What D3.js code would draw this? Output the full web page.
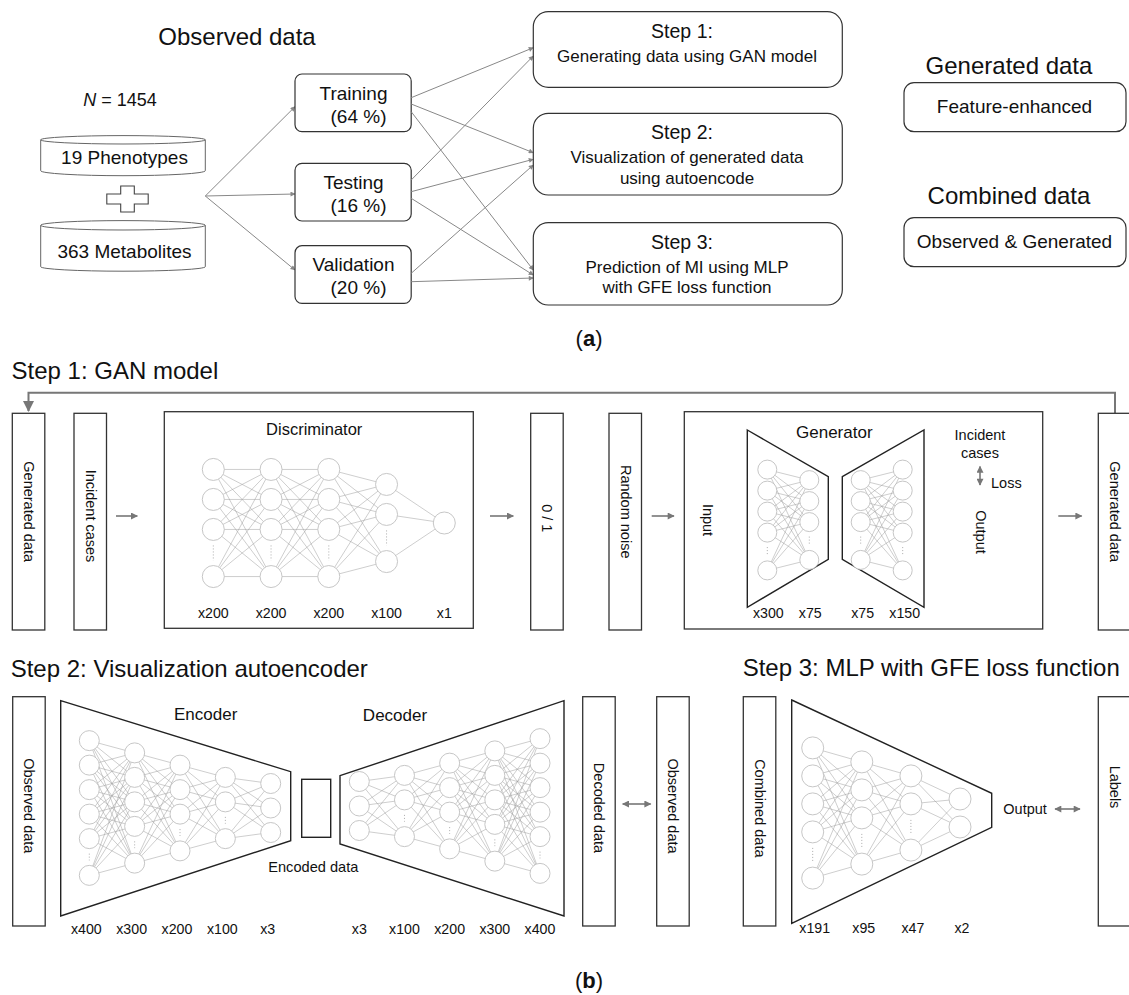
<!DOCTYPE html>
<html><head><meta charset="utf-8">
<script src="https://cdn.jsdelivr.net/npm/d3@7"></script>
<style>
body{margin:0;background:#fff}
text{font-family:"Liberation Sans",Arial,Helvetica,sans-serif;fill:#111}
</style></head><body>
<svg id="c" width="1129" height="995"></svg>
<script>
// ---------- data ----------
const observedTitle = "Observed data";
const sampleSize = 1454;
const dataSources = ["19 Phenotypes", "363 Metabolites"];
const splitNames = ["Training", "Testing", "Validation"];
const splitPercents = [64, 16, 20];
const stepTitles = ["Step 1:", "Step 2:", "Step 3:"];
const stepDescriptions = [["Generating data using GAN model"], ["Visualization of generated data", "using autoencode"], ["Prediction of MI using MLP", "with GFE loss function"]];
const splitToStep = [[0, 0], [0, 1], [0, 2], [1, 0], [1, 1], [1, 2], [2, 1], [2, 2]];
const dataKinds = ["Generated data", "Combined data"];
const dataKindBoxes = ["Feature-enhanced", "Observed & Generated"];
const sectionTitles = ["Step 1: GAN model", "Step 2: Visualization autoencoder", "Step 3: MLP with GFE loss function"];
const ganColumns = ["Generated data", "Incident cases", "0 / 1", "Random noise", "Generated data"];
const bottomColumns = ["Observed data", "Decoded data", "Observed data", "Combined data", "Labels"];
const discriminatorLayers = [200, 200, 200, 100, 1];
const discriminatorShown = [4, 4, 4, 3, 1];
const generatorInLayers = [300, 75];
const generatorInShown = [5, 4];
const generatorOutLayers = [75, 150];
const generatorOutShown = [4, 5];
const encoderLayers = [400, 300, 200, 100, 3];
const encoderShown = [6, 5, 4, 3, 3];
const decoderLayers = [3, 100, 200, 300, 400];
const decoderShown = [3, 3, 4, 5, 6];
const mlpLayers = [191, 95, 47, 2];
const mlpShown = [5, 4, 3, 2];

// ---------- drawing ----------
const svg = d3.select("#c");
const GRAY = "#777";
const defs = svg.append("defs");
function marker(id, w, h, color) {
  defs.append("marker").attr("id", id).attr("viewBox", "0 0 10 10").attr("refX", 9).attr("refY", 5)
    .attr("markerWidth", w).attr("markerHeight", h).attr("orient", "auto-start-reverse")
    .attr("markerUnits", "userSpaceOnUse")
    .append("path").attr("d", "M0,0 L10,5 L0,10 z").attr("fill", color);
}
marker("ahs", 6, 5, "#888");
marker("ahm", 9, 7, GRAY);
marker("ahb", 12, 11, GRAY);

function txt(x, y, s, size, anchor = "middle", g = svg) {
  return g.append("text").attr("x", x).attr("y", y).attr("font-size", size).attr("text-anchor", anchor).text(s);
}
function vtext(cx, cy, s, size) {
  return svg.append("text").attr("transform", `translate(${cx},${cy}) rotate(90)`)
    .attr("font-size", size).attr("text-anchor", "middle").attr("dominant-baseline", "central").text(s);
}
function arrow(x1, y1, x2, y2, m, w, both) {
  const l = svg.append("line").attr("x1", x1).attr("y1", y1).attr("x2", x2).attr("y2", y2)
    .attr("stroke", m === "ahs" ? "#888" : GRAY).attr("stroke-width", w).attr("marker-end", `url(#${m})`);
  if (both) l.attr("marker-start", `url(#${m})`);
  return l;
}

// ===== (a) =====
txt(237, 45, observedTitle, 24);
const nT = txt(120, 106, "", 18);
nT.append("tspan").attr("font-style", "italic").text("N");
nT.append("tspan").text(" = " + sampleSize);

const cylX = d3.scaleLinear().domain([0, 1]).range([40.7, 205.3]);
const cylinders = [{top: 139.8, rt: 4.2, bot: 170.7, rb: 5, ty: 164}, {top: 225.3, rt: 4.7, bot: 266.7, rb: 4.5, ty: 258.3}];
cylinders.forEach((c, i) => {
  const x0 = cylX(0), x1 = cylX(1), rx = (x1 - x0) / 2, cx = (x0 + x1) / 2;
  const g = svg.append("g").attr("fill", "none").attr("stroke", "#666").attr("stroke-width", 1);
  g.append("ellipse").attr("cx", cx).attr("cy", c.top).attr("rx", rx).attr("ry", c.rt).attr("fill", "#fff");
  g.append("path").attr("d", `M${x0},${c.top} V${c.bot} A${rx},${c.rb} 0 0 0 ${x1},${c.bot} V${c.top}`);
  txt(cx + 1.5, c.ty, dataSources[i], 19);
});
// plus sign
(function () {
  const cx = 127.5, cy = 199, hw = 6.8, hh = 13, aw = 20.7, ah = 5;
  const p = [[cx - hw, cy - hh], [cx + hw, cy - hh], [cx + hw, cy - ah], [cx + aw, cy - ah], [cx + aw, cy + ah], [cx + hw, cy + ah],
    [cx + hw, cy + hh], [cx - hw, cy + hh], [cx - hw, cy + ah], [cx - aw, cy + ah], [cx - aw, cy - ah], [cx - hw, cy - ah]];
  svg.append("path").attr("d", d3.line()(p) + "Z").attr("fill", "#fff").attr("stroke", "#444").attr("stroke-width", 1.1);
})();

// split boxes
const splitTop = [74, 163.3, 245.7], splitH = 57.7, splitX0 = 295, splitX1 = 411.2;
const fanTargets = [106.7, 194, 270];
splitNames.forEach((n, i) => {
  arrow(205.3, 196, splitX0, fanTargets[i], "ahs", 1);
  svg.append("rect").attr("x", splitX0).attr("y", splitTop[i]).attr("width", splitX1 - splitX0).attr("height", splitH)
    .attr("rx", 7).attr("fill", "#fff").attr("stroke", "#333").attr("stroke-width", 1.2);
  txt(353.5, splitTop[i] + 25.5, n, 19);
  txt(358.5, splitTop[i] + 48.5, "(" + splitPercents[i] + " %)", 19);
});

// step boxes
const stepTop = [11.7, 113.3, 222.7], stepBot = [87.3, 195, 305], stepX0 = 533.3, stepX1 = 842.3;
const fromY = [[97.7, 104, 111.7], [180, 191.7, 198.3], [null, 273.3, 281.7]];
const toY = [[47.7, 152.7, 270], [56, 159.3, 275], [null, 165, 278]];
splitToStep.forEach(([s, t]) => arrow(splitX1, fromY[s][t], stepX0, toY[s][t], "ahs", 1));
stepTitles.forEach((t, i) => {
  svg.append("rect").attr("x", stepX0).attr("y", stepTop[i]).attr("width", stepX1 - stepX0).attr("height", stepBot[i] - stepTop[i])
    .attr("rx", 15).attr("fill", "none").attr("stroke", "#333").attr("stroke-width", 1.2);
  txt(682, stepTop[i] + 26, t, 19.5);
  stepDescriptions[i].forEach((d, j) => txt(687, stepTop[i] + 50 + j * 20.7, d, 17));
});

// generated / combined
const kindTitleY = [74, 204], kindBoxTop = [82.7, 217.7];
dataKinds.forEach((k, i) => {
  txt(1009, kindTitleY[i], k, 24);
  svg.append("rect").attr("x", 904).attr("y", kindBoxTop[i]).attr("width", 222).attr("height", 49)
    .attr("rx", 10).attr("fill", "none").attr("stroke", "#333").attr("stroke-width", 1.2);
  txt(1014.5, kindBoxTop[i] + 30.5, dataKindBoxes[i], 19);
});
function panelLabel(y, letter) {
  const t = txt(589, y, "", 22);
  t.append("tspan").text("(");
  t.append("tspan").attr("font-weight", "bold").text(letter);
  t.append("tspan").text(")");
}
panelLabel(346, "a");

// ===== (b) =====
txt(11.5, 379, sectionTitles[0], 24, "start");
txt(10.7, 676.7, sectionTitles[1], 24, "start");
txt(742.7, 676, sectionTitles[2], 24, "start");
panelLabel(988, "b");

function vbox(x0, y0, y1, label, ty) {
  svg.append("rect").attr("x", x0).attr("y", y0).attr("width", 32.5).attr("height", y1 - y0)
    .attr("fill", "#fff").attr("stroke", "#333").attr("stroke-width", 1.3);
  vtext(x0 + 16.5, ty, label, 14.5);
}
// feedback loop
svg.append("path").attr("d", "M1115,413 V392.7 H28.5 V411").attr("fill", "none").attr("stroke", GRAY)
  .attr("stroke-width", 2).attr("marker-end", "url(#ahb)");

const ganX = [12.3, 74, 530.7, 609, 1098.3];
const ganTy = [511.7, 516, 518.3, 511.7, 511.7];
ganColumns.forEach((c, i) => vbox(ganX[i], 413.3, 630, c, ganTy[i]));
[[116, 137.3], [490, 513.3], [651.7, 674], [1058.3, 1081.7]].forEach(([a, b]) => arrow(a, 516, b, 516, "ahm", 1.6));

// discriminator & generator frames
svg.append("rect").attr("x", 164.3).attr("y", 411.7).attr("width", 309).attr("height", 216.6)
  .attr("fill", "none").attr("stroke", "#333").attr("stroke-width", 1.3);
txt(314.2, 435, "Discriminator", 16.5);
svg.append("rect").attr("x", 684.3).attr("y", 411.7).attr("width", 358.4).attr("height", 217.3)
  .attr("fill", "none").attr("stroke", "#333").attr("stroke-width", 1.3);
txt(834.3, 438.3, "Generator", 17);
vtext(708.3, 520, "Input", 14.5);
txt(980, 440, "Incident", 14.5);
txt(980, 457.7, "cases", 14.5);
arrow(980, 485, 980, 466.5, "ahm", 1.6, true);
txt(991, 488.3, "Loss", 14.5, "start");
vtext(980.7, 532, "Output", 14.5);

function poly(pts, w = 1.4) {
  svg.append("path").attr("d", d3.line()(pts) + "Z").attr("fill", "none").attr("stroke", "#222").attr("stroke-width", w);
}

// neural net drawing
function network(layers, shown, cfg) {
  const g = svg.append("g");
  const xs = d3.scaleLinear().domain([0, layers.length - 1]).range(cfg.x);
  const cols = layers.map((size, i) => {
    const n = shown[i], dots = size > n;
    const slots = d3.range(n).map(k => (dots && k === n - 1) ? (n - 2 + cfg.gap) : k);
    const span = slots[slots.length - 1];
    const ys = d3.scaleLinear().domain([0, Math.max(span, 1e-9)])
      .range([cfg.cy - span * cfg.sp / 2, cfg.cy + span * cfg.sp / 2]);
    return {x: xs(i), ys: slots.map(s => span === 0 ? cfg.cy : ys(s)), dots, size};
  });
  for (let i = 0; i < cols.length - 1; i++) {
    cols[i].ys.forEach(y1 => cols[i + 1].ys.forEach(y2 => {
      g.append("line").attr("x1", cols[i].x).attr("y1", y1).attr("x2", cols[i + 1].x).attr("y2", y2)
        .attr("stroke", "#9c9c9c").attr("stroke-width", 0.5);
    }));
  }
  cols.forEach(c => {
    if (c.dots) {
      const a = c.ys[c.ys.length - 2], b = c.ys[c.ys.length - 1];
      g.append("line").attr("x1", c.x).attr("x2", c.x).attr("y1", a + cfg.r + 5).attr("y2", b - cfg.r - 5)
        .attr("stroke", "#aaa").attr("stroke-width", 1).attr("stroke-dasharray", "1,2");
    }
    c.ys.forEach(y => g.append("circle").attr("cx", c.x).attr("cy", y).attr("r", cfg.r)
      .attr("fill", "#fff").attr("stroke", "#c0c0c0").attr("stroke-width", 0.9));
    txt(c.x + (cfg.lx || 0), cfg.ly, "x" + c.size, 14.2);
  });
}
network(discriminatorLayers, discriminatorShown, {x: [213.3, 444.3], cy: 523, sp: 30, gap: 1.57, r: 11, ly: 617.5, lx: 0});
poly([[747.3, 430], [828.3, 476.7], [828.3, 559.3], [747.3, 607.3]]);
poly([[842.3, 476.7], [924, 430], [924, 607.3], [842.3, 559.3]]);
network(generatorInLayers, generatorInShown, {x: [767.3, 809.3], cy: 520, sp: 21, gap: 1.8, r: 9.5, ly: 618.3, lx: 1});
network(generatorOutLayers, generatorOutShown, {x: [860.7, 902.7], cy: 520, sp: 21, gap: 1.8, r: 9.5, ly: 618.3, lx: 2});

// step 2 and 3
const botX = [12.7, 582.7, 656.7, 743.3, 1098.3];
const botTy = [805.8, 808, 806, 808.3, 787];
bottomColumns.forEach((c, i) => vbox(botX[i], 696.7, 926, c, botTy[i]));
poly([[60.7, 700.7], [290.7, 771.7], [290.7, 840.7], [60.7, 916]]);
poly([[340, 775.7], [564, 700.7], [564, 916], [340, 844]]);
poly([[791.7, 700], [991.7, 793.3], [991.7, 827.3], [791.7, 923.3]]);
svg.append("rect").attr("x", 301.7).attr("y", 779.3).attr("width", 29).attr("height", 58)
  .attr("fill", "none").attr("stroke", "#222").attr("stroke-width", 1.4);
txt(205.7, 720, "Encoder", 17);
txt(395, 720.7, "Decoder", 17);
txt(313.3, 871.7, "Encoded data", 14.6);
network(encoderLayers, encoderShown, {x: [89.3, 270.7], cy: 808, sp: 24.5, gap: 1.5, r: 10, ly: 934, lx: -3});
network(decoderLayers, decoderShown, {x: [359.3, 540], cy: 806, sp: 24.5, gap: 1.5, r: 10, ly: 934, lx: 0});
network(mlpLayers, mlpShown, {x: [812.7, 960], cy: 813, sp: 28, gap: 1.65, r: 11, ly: 933.3, lx: 2});
arrow(650.7, 804, 622.7, 804, "ahm", 1.6, true);
txt(1003.3, 814, "Output", 14.5, "start");
arrow(1055, 809, 1080, 809, "ahm", 1.6, true);
</script>
</body></html>
